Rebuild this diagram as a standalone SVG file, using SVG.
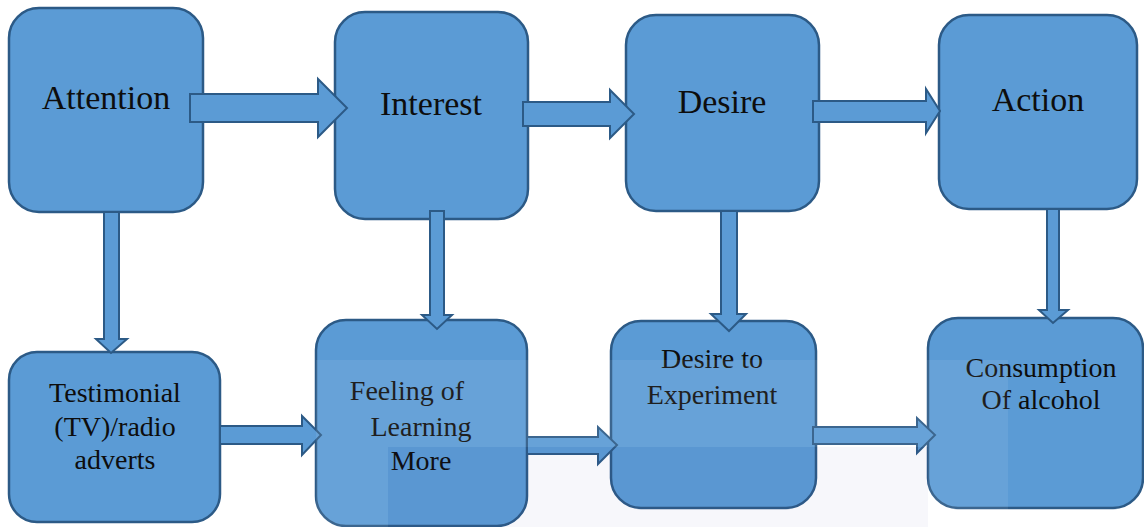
<svg xmlns="http://www.w3.org/2000/svg" width="1144" height="527" viewBox="0 0 1144 527">
<style>
.box{fill:#5B9BD5;stroke:#2C5A86;stroke-width:2.5}
.arr{fill:#5B9BD5;stroke:#2C5A86;stroke-width:2;stroke-linejoin:miter}
text{font-family:'Liberation Serif','Times New Roman',Times,'DejaVu Serif',serif;fill:#0d0d0d;text-anchor:middle}
.t1{font-size:34px}
.t2{font-size:28px}
</style>
<rect width="1144" height="527" fill="#ffffff"/>
<g id="node-attention"><rect class="box" x="9" y="8" width="194" height="204" rx="30"/><text class="t1" x="106" y="109" font-family="Liberation Serif, serif">Attention</text></g>
<g id="node-interest"><rect class="box" x="335" y="12" width="193" height="207" rx="30"/><text class="t1" x="431" y="115">Interest</text></g>
<g id="node-desire"><rect class="box" x="626" y="15" width="193" height="196" rx="30"/><text class="t1" x="722" y="113">Desire</text></g>
<g id="node-action"><rect class="box" x="939" y="15" width="198" height="194" rx="30"/><text class="t1" x="1038" y="111">Action</text></g>
<g id="node-testimonial"><rect class="box" x="9" y="352" width="211" height="170" rx="28"/><text class="t2" x="115" y="402">Testimonial</text><text class="t2" x="115" y="436">(TV)/radio</text><text class="t2" x="115" y="469">adverts</text></g>
<g id="node-feeling"><rect class="box" x="316" y="320" width="211" height="206" rx="30"/><text class="t2" x="407" y="400">Feeling of</text><text class="t2" x="421" y="436">Learning</text><text class="t2" x="421" y="470">More</text></g>
<g id="node-experiment"><rect class="box" x="611" y="321" width="205" height="187" rx="30"/><text class="t2" x="712" y="368">Desire to</text><text class="t2" x="712" y="404">Experiment</text></g>
<g id="node-consumption"><rect class="box" x="928" y="318" width="215" height="190" rx="30"/><text class="t2" x="1041" y="377">Consumption</text><text class="t2" x="1041" y="409">Of alcohol</text></g>
<g id="connectors">
<polygon class="arr" points="190,94 318,94 318,79 347,108 318,137 318,122 190,122"/>
<polygon class="arr" points="523,102 610,102 610,90 634,114 610,138 610,126 523,126"/>
<polygon class="arr" points="813,101 926,101 926,89 940,111 926,133 926,122 813,122"/>
<polygon class="arr" points="104,212 119,212 119,339 127,339 111,353 96,339 104,339"/>
<polygon class="arr" points="430,211 444,211 444,315 452,315 437,329 422,315 430,315"/>
<polygon class="arr" points="721,211 737,211 737,314 746,314 729,331 711,314 721,314"/>
<polygon class="arr" points="1047,209 1059,209 1059,310 1068,310 1053,323 1039,310 1047,310"/>
<polygon class="arr" points="220,426 302,426 302,416 321,435 302,455 302,444 220,444"/>
<polygon class="arr" points="527,437 598,437 598,427 617,445 598,464 598,454 527,454"/>
<polygon class="arr" points="813,427 917,427 917,418 935,435 917,453 917,444 813,444"/>
</g>
<g id="watermark">
<rect x="316" y="360" width="692" height="87" fill="#ffffff" opacity="0.08"/>
<rect x="316" y="447" width="72" height="80" fill="#ffffff" opacity="0.08"/>
<rect x="928" y="447" width="80" height="80" fill="#ffffff" opacity="0.08"/>
<rect x="388" y="447" width="540" height="80" fill="#3a4a9a" opacity="0.045"/>
</g>
</svg>
